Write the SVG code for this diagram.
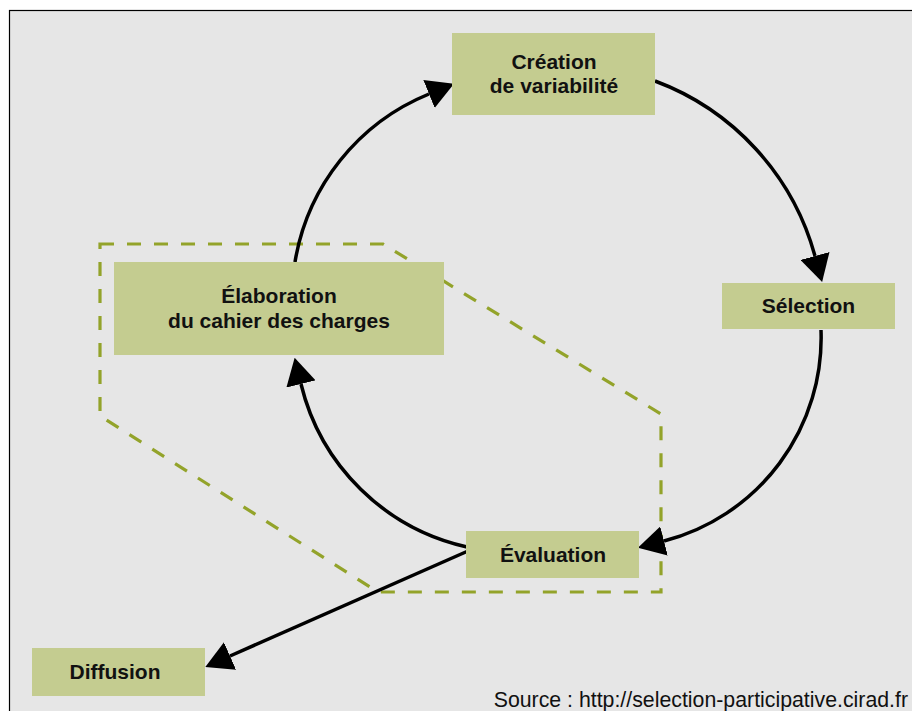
<svg xmlns="http://www.w3.org/2000/svg" width="912" height="711" viewBox="0 0 912 711">
<defs>
<style>
.box{fill:#c4cc90;}
.lbl{font-family:"Liberation Sans",Arial,sans-serif;font-weight:bold;font-size:21px;fill:#111;text-anchor:middle;}
.arc{fill:none;stroke:#000;stroke-width:3.5;}
.zone{fill:none;stroke:#93a32a;stroke-width:3.2;stroke-dasharray:14 13;}
.src{font-family:"Liberation Sans",Arial,sans-serif;font-size:21.3px;fill:#111;text-anchor:end;}
</style>
<marker id="ah" viewBox="0 -15 27 30" markerWidth="27" markerHeight="30" refX="0" refY="0" markerUnits="userSpaceOnUse" orient="auto">
<path d="M0,-15 L27,0 L0,15 Z" fill="#000"/>
</marker>
</defs>
<rect x="0" y="0" width="912" height="711" fill="#fff"/>
<rect x="9.5" y="10.5" width="930" height="730" fill="#e6e6e6" stroke="#000" stroke-width="1.2"/>

<path id="zone" class="zone" d="M100,244 L383,244 L661,414 L661,592 L378,592 L100,416 Z"/>

<g id="connectors">
<path class="arc" d="M295,262 A220 220 0 0 1 429,94" marker-end="url(#ah)"/>
<path class="arc" d="M655,81 A260 260 0 0 1 815,256" marker-end="url(#ah)"/>
<path class="arc" d="M821,330 A210 210 0 0 1 664,541" marker-end="url(#ah)"/>
<path class="arc" d="M467,547 A220 220 0 0 1 301,384" marker-end="url(#ah)"/>
<path class="arc" d="M468,551 L230,656" marker-end="url(#ah)"/>
</g>

<g id="creation">
<rect class="box" x="452" y="33" width="203" height="82"/>
<text class="lbl" x="554" y="69">Création</text>
<text class="lbl" x="554" y="93">de variabilité</text>
</g>
<g id="selection">
<rect class="box" x="722" y="283" width="173" height="46"/>
<text class="lbl" x="808.5" y="313">Sélection</text>
</g>
<g id="evaluation">
<rect class="box" x="466" y="531" width="173" height="47"/>
<text class="lbl" x="553" y="562">Évaluation</text>
</g>
<g id="elaboration">
<rect class="box" x="114" y="262" width="330" height="93"/>
<text class="lbl" x="279" y="303">Élaboration</text>
<text class="lbl" x="279" y="328">du cahier des charges</text>
</g>
<g id="diffusion">
<rect class="box" x="32" y="648" width="173" height="48"/>
<text class="lbl" x="115" y="679">Diffusion</text>
</g>
<text class="src" x="908" y="707">Source : http://selection-participative.cirad.fr</text>
</svg>
